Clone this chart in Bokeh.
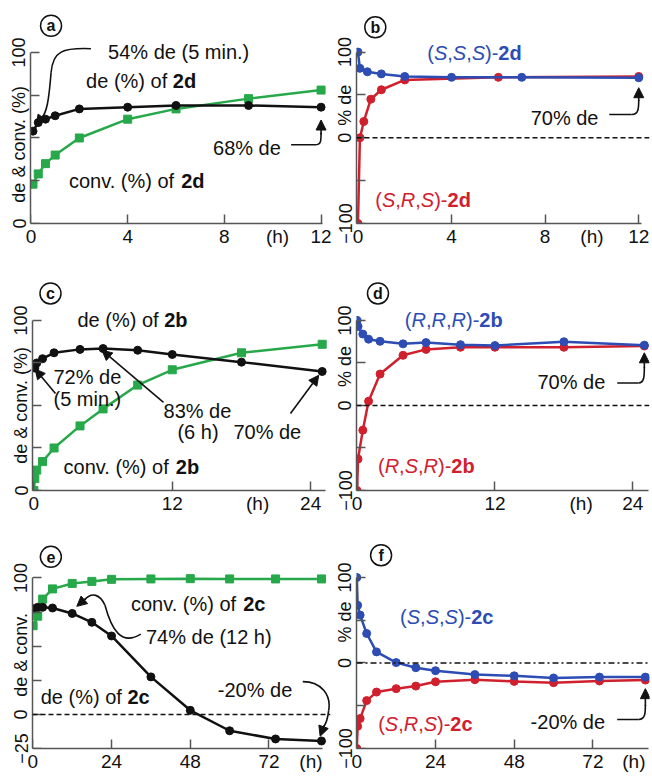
import math
from bokeh.plotting import figure
from bokeh.layouts import column, row
from bokeh.models import FixedTicker, Arrow, NormalHead, Span, LinearAxis
from bokeh.core.properties import value
from bokeh.embed import file_html
from bokeh.resources import INLINE

FONT = "Liberation Sans"
GREEN = "#27a84a"
BLUE = "#2d4cb4"
RED = "#d0202e"
BLACK = "#111111"
AXIS = "#555555"

# ---------------- data ----------------
a_t = [0.083, 0.3, 0.6, 1, 2, 4, 6, 9, 12]
a_de = [54, 59, 61, 63, 67, 68, 69, 69, 68]
a_conv = [23, 29, 35, 40, 50, 61, 67, 73, 78]

b_t_sss = [0, 0.083, 0.4, 1, 2, 4, 7, 12]
b_sss = [100, 81, 77, 74.5, 71.5, 70.5, 70.5, 70]
b_t_srs = [0, 0.083, 0.25, 0.55, 1, 2, 6, 12]
b_srs = [-100, 0, 19, 45, 56, 67.5, 70.5, 71.5]

c_t_de = [0.083, 0.25, 0.75, 1.75, 4, 6, 9, 12, 18, 25]
c_de = [72, 75, 77.5, 81, 83, 83.5, 82.5, 80, 75.5, 70]
c_t_conv = [0, 0.083, 0.25, 0.75, 1.75, 4, 6, 9, 12, 18, 25]
c_conv = [0, 7, 12, 17, 25, 38, 48, 62, 71, 81, 86]

d_t = [0, 0.083, 0.5, 1, 2, 4, 6, 9, 12, 18, 25]
d_rrr = [100, 93, 84, 78, 75.5, 72.5, 74, 71.5, 70.5, 75, 71]
d_rsr = [-100, -63, -29, 5, 37, 59, 66, 68.5, 68.5, 68.5, 70]

e_t = [0.083, 1.5, 3, 6, 12, 18, 24, 36, 48, 60, 74, 88]
e_de = [77.5, 78.5, 78.5, 78, 74, 67.5, 57.5, 27.5, 3, -12, -18, -19.5]
e_conv = [65, 72, 84.5, 92, 96, 97.5, 99, 99.3, 99.5, 99.3, 99.3, 99.3]

f_t = [0, 0.25, 1, 3, 6, 12, 18, 24, 36, 48, 60, 74, 88]
f_sss = [100, 67.5, 56, 34.5, 13, 0.5, -5.5, -9, -13.5, -15, -17.5, -16.5, -16.5]
f_srs = [-100, -74, -65, -44, -34, -30, -27, -22, -19.5, -21.5, -23, -21, -20]

# tick values / tick labels
x_ticks_ab = [0, 4, 8, 12]
x_ticks_cd = [0, 12, 24]
x_ticks_ef = [0, 24, 48, 72]
y_ticks_pct = [0, 25, 50, 75, 100]
y_ticks_e = [-25, 0, 25, 50, 75, 100]
y_ticks_de = [-100, -50, 0, 50, 100]
h_label = "(h)"

# ---------------- helpers ----------------
REG = {' ': 278, '%': 889, '&': 667, '(': 333, ')': 333, ',': 278, '-': 333, '.': 278,
       'R': 722, 'S': 667, 'a': 556, 'b': 556, 'c': 500, 'd': 556, 'e': 556, 'f': 278,
       'h': 556, 'i': 222, 'm': 833, 'n': 556, 'o': 556, 'v': 500}
BOLD = {' ': 278, 'b': 611, 'c': 556, 'd': 611}


def text_width(s, style, size):
    table = BOLD if "bold" in style else REG
    return sum(table.get(ch, 556) for ch in s) * size / 1000.0


def rich(p, x, y, parts, color=BLACK, size=20):
    off = 0.0
    for t, st in parts:
        p.text(x=[x], y=[y], text=[t], x_offset=off, text_align="left",
               text_baseline="middle", text_font=value(FONT),
               text_font_size=f"{size}px", text_font_style=st, text_color=color)
        off += text_width(t, st, size)


def stereo(letters, cmpd):
    parts = [("(", "normal")]
    for i, L in enumerate(letters):
        parts.append((L, "italic"))
        if i < len(letters) - 1:
            parts.append((",", "normal"))
    parts.append((")-", "normal"))
    parts.append((cmpd, "bold"))
    return parts


def arrow(p, x0, y0, x1, y1):
    p.add_layout(Arrow(end=NormalHead(size=10, fill_color=BLACK, line_color=BLACK, line_width=1),
                       x_start=x0, y_start=y0, x_end=x1, y_end=y1,
                       line_color=BLACK, line_width=1.6))


def curve(p, x0, y0, cx0, cy0, cx1, cy1, x1, y1):
    p.bezier(x0=[x0], y0=[y0], x1=[x1], y1=[y1], cx0=[cx0], cy0=[cy0], cx1=[cx1], cy1=[cy1],
             line_color=BLACK, line_width=1.6)


def tag(p, x, y, letter):
    p.scatter([x], [y], marker="circle", size=21, fill_color="white",
              line_color=BLACK, line_width=1.5)
    p.text(x=[x], y=[y], text=[letter], text_align="center", text_baseline="middle",
           text_font=value(FONT), text_font_size="16px", text_font_style="bold",
           text_color=BLACK)


def tick_axis(p, side, loc, ticks, bounds):
    ax = LinearAxis(fixed_location=loc, ticker=FixedTicker(ticks=ticks), bounds=bounds,
                    axis_line_color=None, major_tick_line_color=AXIS,
                    major_tick_line_width=1.5, major_tick_in=9, major_tick_out=0,
                    minor_tick_line_color=None, major_label_text_font_size="1px",
                    major_label_text_alpha=0, major_label_standoff=0,
                    major_label_overrides={t: "" for t in ticks})
    p.add_layout(ax, side)


def panel(width, height, bl, br, bt, bb, xr, yr, xb, yb, xticks, hpos, yticks, ylabeled,
          ylab, ylab_pos):
    p = figure(width=width, height=height, x_range=xr, y_range=yr,
               output_backend="svg", toolbar_location=None,
               min_border_left=bl, min_border_right=br,
               min_border_top=bt, min_border_bottom=bb)
    p.outline_line_color = None
    p.xgrid.visible = False
    p.ygrid.visible = False
    xa = p.xaxis[0]
    ya = p.yaxis[0]
    for ax in (xa, ya):
        ax.axis_line_color = AXIS
        ax.axis_line_width = 1.5
        ax.major_tick_line_color = None
        ax.minor_tick_line_color = None
        ax.major_tick_in = 0
        ax.major_tick_out = 0
        ax.major_label_text_font = FONT
        ax.major_label_text_color = BLACK
    # primary x axis: line + tick labels (incl. the "(h)" unit label)
    xa.ticker = FixedTicker(ticks=list(xticks) + [hpos])
    xa.major_label_overrides = {hpos: h_label}
    xa.bounds = xb
    xa.major_label_text_font_size = "19px"
    xa.major_label_standoff = 2
    # primary y axis: line + labels (incl. rotated axis title)
    shown = [t for t in yticks if t in ylabeled]
    ya.ticker = FixedTicker(ticks=shown + [ylab_pos])
    ya.major_label_overrides = {ylab_pos: ylab}
    ya.bounds = yb
    ya.major_label_text_font_size = "18px"
    ya.major_label_standoff = 1
    ya.major_label_orientation = "vertical"
    # inward tick marks
    tick_axis(p, "below", yr[0], xticks, xb)
    tick_axis(p, "left", xr[0], yticks, yb)
    return p


def series(p, x, y, color, marker):
    p.line(x, y, line_width=2.5, line_color=color)
    p.scatter(x, y, marker=marker, size=8, fill_color=color, line_color=color)


# ---------------- panel a ----------------
pa = panel(332, 260, 30, 2, 2, 37, (-0.02, 12.39), (0, 129.2), (-0.02, 12.05), (0, 100),
           x_ticks_ab, 10.2, y_ticks_pct, [0, 100], "de & conv. (%)", 46.3)
series(pa, a_t, a_conv, GREEN, "square")
series(pa, a_t, a_de, BLACK, "circle")
rich(pa, 3.19, 100, [("54% de (5 min.)", "normal")])
rich(pa, 2.28, 83.4, [("de (%) of ", "normal"), ("2d", "bold")])
rich(pa, 7.53, 44.3, [("68% de", "normal")])
rich(pa, 1.57, 25, [("conv. (%) of ", "normal"), ("2d", "bold")])
curve(pa, 2.48, 102.2, 1.32, 102.8, 0.9, 101, 0.83, 88.1)
curve(pa, 0.83, 88.1, 0.74, 72, 0.66, 65, 0.42, 61)
arrow(pa, 0.5, 63, 0.22, 57.5)
pa.line([10.76, 11.75], [46, 46], line_color=BLACK, line_width=1.6)
curve(pa, 11.75, 46, 12.0, 46, 12.0, 48, 12.0, 53)
arrow(pa, 12.0, 52, 12.0, 60.5)
tag(pa, 0.83, 115.6, "a")

# ---------------- panel b ----------------
pb = panel(320, 260, 24, 3, 2, 35, (-0.063, 12.46), (-100, 157.8), (-0.063, 12.1), (-100, 100),
           x_ticks_ab, 10.0, y_ticks_de, [-100, 0, 100], "% de", 38)
pb.add_layout(Span(location=0, dimension="width", line_color=BLACK, line_width=1.5, line_dash="5 3"))
series(pb, b_t_srs, b_srs, RED, "circle")
series(pb, b_t_sss, b_sss, BLUE, "circle")
rich(pb, 2.96, 98.8, stereo("SSS", "2d"), color=BLUE)
rich(pb, 7.38, 22.5, [("70% de", "normal")])
rich(pb, 0.74, -72.3, stereo("SRS", "2d"), color=RED)
pb.line([10.74, 11.7], [27.2, 27.2], line_color=BLACK, line_width=1.6)
curve(pb, 11.7, 27.2, 12.0, 27.2, 12.0, 35, 12.0, 44)
arrow(pb, 12.0, 43, 12.0, 58.4)
tag(pb, 0.74, 128.9, "b")

# ---------------- panel c ----------------
pc = panel(332, 256, 32, 2, 2, 26, (-0.12, 25.72), (0, 134.1), (-0.12, 25.3), (0, 100),
           x_ticks_cd, 19.4, y_ticks_pct, [0, 100], "de & conv. (%)", 50)
series(pc, c_t_conv, c_conv, GREEN, "square")
series(pc, c_t_de, c_de, BLACK, "circle")
rich(pc, 3.78, 100, [("de (%) of ", "normal"), ("2b", "bold")])
rich(pc, 1.7, 67, [("72% de", "normal")])
rich(pc, 1.7, 54, [("(5 min.)", "normal")])
rich(pc, 11.24, 47, [("83% de", "normal")])
rich(pc, 12.45, 34.7, [("(6 h)", "normal")])
rich(pc, 17.3, 34.7, [("70% de", "normal")])
rich(pc, 2.57, 14.1, [("conv. (%) of ", "normal"), ("2b", "bold")])
arrow(pc, 1.87, 57, 0.1, 71.5)
arrow(pc, 11.24, 51.8, 5.9, 82.5)
arrow(pc, 22.25, 45.3, 24.7, 67.8)
tag(pc, 1.44, 115.9, "c")

# ---------------- panel d ----------------
pd = panel(320, 256, 23, 3, 2, 26, (-0.05, 25.45), (-100, 168.2), (-0.05, 25.35), (-100, 100),
           x_ticks_cd, 19.5, y_ticks_de, [-100, 0, 100], "% de", 46)
pd.add_layout(Span(location=0, dimension="width", line_color=BLACK, line_width=1.5, line_dash="5 3"))
series(pd, d_t, d_rsr, RED, "circle")
series(pd, d_t, d_rrr, BLUE, "circle")
rich(pd, 4.16, 100, stereo("RRR", "2b"), color=BLUE)
rich(pd, 15.7, 27.6, [("70% de", "normal")])
rich(pd, 1.82, -70.6, stereo("RSR", "2b"), color=RED)
pd.line([22.64, 24.5], [26.5, 26.5], line_color=BLACK, line_width=1.6)
curve(pd, 24.5, 26.5, 25.0, 26.5, 25.0, 35, 25.0, 45)
arrow(pd, 25.0, 44, 25.0, 62)
tag(pd, 1.82, 131.8, "d")

# ---------------- panel e ----------------
pe = panel(332, 262, 32, 2, 2, 28, (-0.1, 90.75), (-25, 143.6), (-0.1, 88.3), (-25, 100),
           x_ticks_ef, 84.8, y_ticks_e, [-25, 0, 100], "de & conv.", 43.6)
pe.add_layout(Span(location=0, dimension="width", line_color=BLACK, line_width=1.5, line_dash="5 3"))
series(pe, e_t, e_conv, GREEN, "square")
series(pe, e_t, e_de, BLACK, "circle")
rich(pe, 29.9, 80.6, [("conv. (%) of ", "normal"), ("2c", "bold")])
rich(pe, 34.5, 56.6, [("74% de (12 h)", "normal")])
rich(pe, 2.4, 13.1, [("de (%) of ", "normal"), ("2c", "bold")])
rich(pe, 56.4, 18.2, [("-20% de", "normal")])
curve(pe, 32.9, 58.8, 27, 50, 24, 62, 22, 80)
curve(pe, 22, 80, 20.5, 88, 18, 90, 15.8, 84)
arrow(pe, 16.2, 85, 13.4, 79.2)
curve(pe, 82.3, 24, 88, 24, 91, 14, 90.2, 3)
curve(pe, 90.2, 3, 89.9, -3, 89.3, -7, 88.7, -9)
arrow(pe, 88.8, -8, 87.6, -16)
tag(pe, 5.5, 115.5, "e")

# ---------------- panel f ----------------
pf = panel(320, 262, 23, 3, 2, 30, (-0.1, 89.26), (-100, 169.0), (-0.1, 89.0), (-100, 100),
           x_ticks_ef, 84.5, y_ticks_de, [-100, 0, 100], "% de", 48)
pf.add_layout(Span(location=0, dimension="width", line_color=BLACK, line_width=1.5, line_dash="6 3 2 3"))
series(pf, f_t, f_srs, RED, "circle")
series(pf, f_t, f_sss, BLUE, "circle")
rich(pf, 13.2, 54.2, stereo("SSS", "2c"), color=BLUE)
rich(pf, 6.5, -71, stereo("SRS", "2c"), color=RED)
rich(pf, 53, -68.7, [("-20% de", "normal")])
pf.line([79.4, 86], [-66, -66], line_color=BLACK, line_width=1.6)
curve(pf, 86, -66, 88, -66, 88, -58, 88, -49)
arrow(pf, 88, -50, 88, -30)
tag(pf, 7.4, 126.1, "f")

layout = column(row(pa, pb), row(pc, pd), row(pe, pf))
open("out.html", "w").write(file_html(layout, INLINE))
